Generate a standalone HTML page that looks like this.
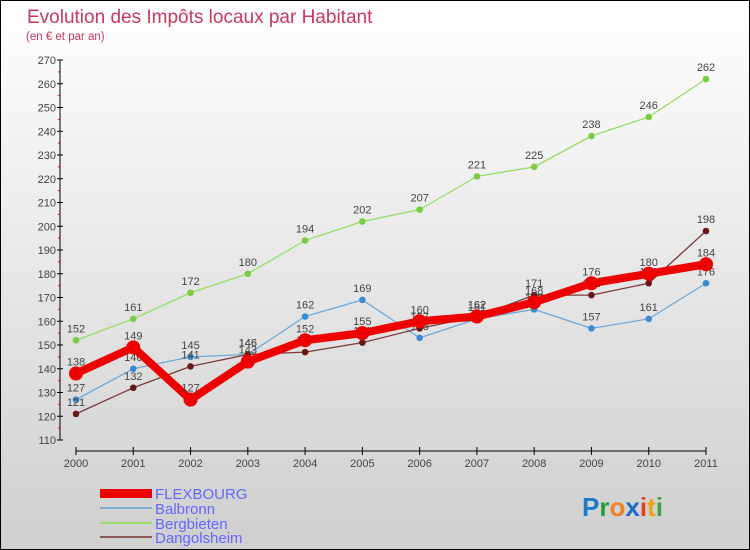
<!DOCTYPE html>
<html><head><meta charset="utf-8"><style>
body{margin:0}
#c{width:748px;height:548px;border:1px solid #000;background:linear-gradient(#ffffff,#cfcfcf);position:relative;font-family:"Liberation Sans",sans-serif;overflow:hidden}
</style></head><body>
<div id="c">
<svg id="s" width="748" height="548" xmlns="http://www.w3.org/2000/svg">
<text x="26" y="22" font-size="19" fill="#c8385f">Evolution des Impôts locaux par Habitant</text>
<text x="25" y="39" font-size="11.5" fill="#c8385f">(en € et par an)</text>
<g id="axes"></g><g id="series"></g>
<g>
<rect x="99" y="488" width="52" height="9" fill="#e00"/>
<text x="154" y="498" font-size="15" fill="#6666ff">FLEXBOURG</text>
<rect x="99" y="506" width="52" height="2" fill="#7aaed2"/>
<text x="154" y="513" font-size="15" fill="#6666ff">Balbronn</text>
<rect x="99" y="521" width="52" height="2" fill="#99dd66"/>
<text x="154" y="528" font-size="15" fill="#6666ff">Bergbieten</text>
<rect x="99" y="535" width="52" height="2" fill="#8b5a5a"/>
<text x="154" y="542" font-size="15" fill="#6666ff">Dangolsheim</text>
</g>
<text x="581" y="515" font-size="26" font-weight="bold"><tspan fill="#1a7ac8">P</tspan><tspan fill="#2a9a3a">r</tspan><tspan fill="#f08020">o</tspan><tspan fill="#1a6ac8">x</tspan><tspan fill="#e04020">i</tspan><tspan fill="#f0a020">t</tspan><tspan fill="#40a040">i</tspan></text>
</svg></div>
<script>
const years=[2000,2001,2002,2003,2004,2005,2006,2007,2008,2009,2010,2011];
const flexbourg=[138,149,127,143,152,155,160,162,168,176,180,184];
const balbronn=[127,140,145,146,162,169,153,161,165,157,161,176];
const bergbieten=[152,161,172,180,194,202,207,221,225,238,246,262];
const dangolsheim=[121,132,141,146,147,151,157,162,171,171,176,198];
const yTicks=[110,120,130,140,150,160,170,180,190,200,210,220,230,240,250,260,270];
const NS='http://www.w3.org/2000/svg';
const X=i=>75+i*(630/11);
const Y=v=>439-(v-110)*(380/160);
function mk(t,a,p){const e=document.createElementNS(NS,t);for(const k in a)e.setAttribute(k,a[k]);p.appendChild(e);return e;}
const ax=document.getElementById('axes'),sr=document.getElementById('series');
let l=mk('line',{x1:59,y1:Y(270),x2:59,y2:Y(110),stroke:'#000'},ax);


l=mk('line',{x1:X(0),y1:450,x2:X(11),y2:450,stroke:'#000'},ax);


yTicks.forEach((v,i)=>{
 mk('line',{x1:56,x2:62,y1:Y(v),y2:Y(v),stroke:'#000'},ax);
 if(i<yTicks.length-1)mk('line',{x1:57,x2:59,y1:Y(v+5),y2:Y(v+5),stroke:'#d00'},ax);
 const t=mk('text',{x:55,y:Y(v)+4,'font-size':11,fill:'#444','text-anchor':'end'},ax);t.textContent=v;
 
 
});
years.forEach((y,i)=>{
 mk('line',{x1:X(i),x2:X(i),y1:446,y2:454,stroke:'#000'},ax);
 const t=mk('text',{x:X(i),y:466,'font-size':11,fill:'#444','text-anchor':'middle'},ax);t.textContent=y;
 
 
});
function series(name,data,color,w,r,dot){
 const g=mk('g',{},sr);
 
 
 const p=mk('polyline',{points:data.map((v,i)=>X(i)+','+Y(v)).join(' '),fill:'none',stroke:color,'stroke-width':w,'stroke-linejoin':'round'},g);
 
 
 data.forEach((v,i)=>{
  const c=mk('circle',{cx:X(i),cy:Y(v),r:r,fill:dot},g);
  
  
  const t=mk('text',{x:X(i),y:Y(v)-8,'font-size':11,fill:'#444','text-anchor':'middle'},g);t.textContent=v;
  
  
 });
}
series('bergbieten',bergbieten,'#99dd66',1.3,3.3,'#7acc44');
series('balbronn',balbronn,'#6fa8d8',1.3,3.3,'#3a8ad0');
series('dangolsheim',dangolsheim,'#7a3a3a',1.3,3.3,'#661818');
series('flexbourg',flexbourg,'#ee0000',8,7,'#ee0000');
</script>
</body></html>
